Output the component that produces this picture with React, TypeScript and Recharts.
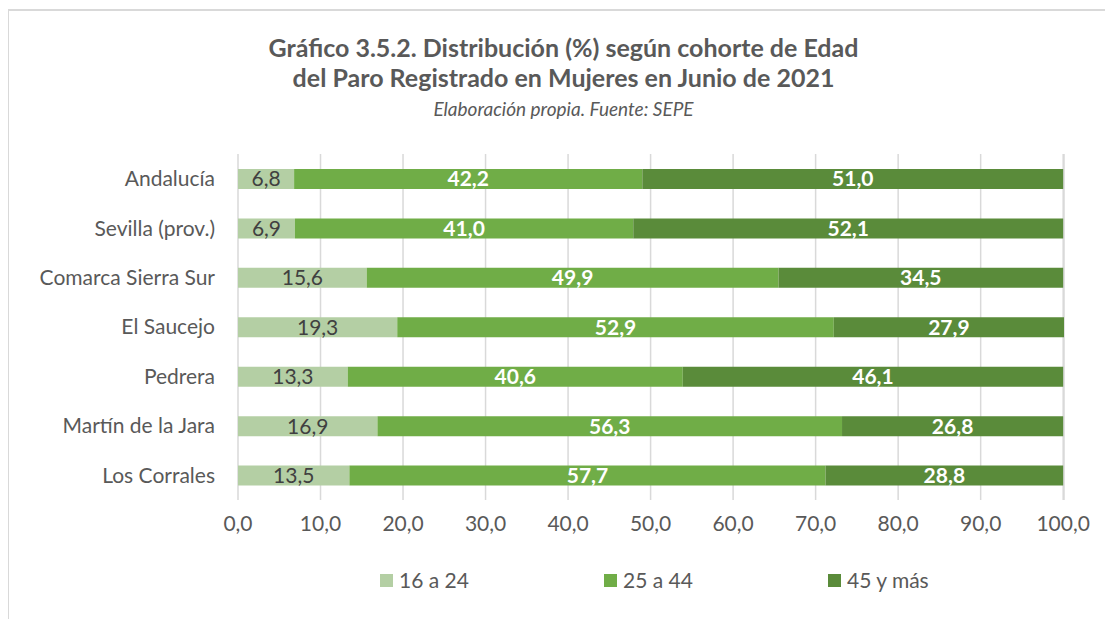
import React from "react";
import { BarChart, Bar, XAxis, YAxis, CartesianGrid, LabelList, Legend } from "recharts";

const categories = ["Andalucía", "Sevilla (prov.)", "Comarca Sierra Sur", "El Saucejo", "Pedrera", "Martín de la Jara", "Los Corrales"];
const serie16a24 = [6.8, 6.9, 15.6, 19.3, 13.3, 16.9, 13.5];
const serie25a44 = [42.2, 41.0, 49.9, 52.9, 40.6, 56.3, 57.7];
const serie45ymas = [51.0, 52.1, 34.5, 27.9, 46.1, 26.8, 28.8];
const xTicks = [0, 10, 20, 30, 40, 50, 60, 70, 80, 90, 100];
const seriesNames = ["16 a 24", "25 a 44", "45 y más"];

const data = categories.map((c, i) => ({
  name: c,
  a: serie16a24[i],
  b: serie25a44[i],
  c: serie45ymas[i],
}));

const FONT = "Lato, 'Noto Sans', sans-serif";
const TEXT = "#595959";
const COLORS = ["#b4cfa4", "#70ad47", "#5a8b3a"];
const fmt = (v: any) => Number(v).toFixed(1).replace(".", ",");

const LegendContent = () => (
  <div style={{ position: "relative", width: 1105, height: 30, fontFamily: FONT }}>
    {seriesNames.map((n, i) => (
      <div key={n} style={{ position: "absolute", left: 372 + i * 224, top: 0, display: "flex", alignItems: "center", fontSize: 21, color: TEXT, lineHeight: "30px" }}>
        <span style={{ display: "inline-block", width: 13, height: 13, background: COLORS[i], marginRight: 6 }} />
        {n}
      </div>
    ))}
  </div>
);

export default function App() {
  return (
    <div style={{ position: "relative", width: 1105, height: 611, fontFamily: FONT, background: "#fff" }}>
      <div style={{ position: "absolute", left: -1, top: 1, width: 1110, height: 620, borderLeft: "2px solid #d9d9d9", borderTop: "2px solid #d9d9d9" }} />
      <div style={{ position: "absolute", left: 0, top: 24, width: 1111, textAlign: "center", fontWeight: 700, fontSize: 25, color: TEXT, lineHeight: "30px" }}>
        Gráfico 3.5.2. Distribución (%) según cohorte de Edad<br />del Paro Registrado en Mujeres en Junio de 2021
      </div>
      <div style={{ position: "absolute", left: 0, top: 89, width: 1111, textAlign: "center", fontStyle: "italic", fontSize: 19, color: TEXT }}>
        Elaboración propia. Fuente: SEPE
      </div>
      <div style={{ position: "absolute", left: 0, top: 0 }}>
        <BarChart
          width={1105}
          height={611}
          data={data}
          layout="vertical"
          margin={{ top: 146, right: 49, bottom: 49, left: 0 }}
          barSize={20}
        >
          <CartesianGrid horizontal={false} stroke="#d9d9d9" strokeWidth={1.5} />
          <XAxis
            type="number"
            domain={[0, 100]}
            ticks={xTicks}
            tickFormatter={fmt}
            axisLine={false}
            tickLine={false}
            tickSize={0}
            tickMargin={16}
            height={40}
            tick={{ fill: TEXT, fontSize: 21, fontFamily: FONT }}
            interval={0}
          />
          <YAxis
            type="category"
            dataKey="name"
            width={230}
            axisLine={false}
            tickLine={false}
            tickSize={0}
            tickMargin={23}
            tick={{ fill: TEXT, fontSize: 21, fontFamily: FONT }}
            interval={0}
          />
          <Legend
            verticalAlign="bottom"
            content={<LegendContent />}
            wrapperStyle={{ position: "absolute", top: 557, left: 0, width: 1105, height: 30 }}
          />
          <Bar dataKey="a" stackId="s" name={seriesNames[0]} fill={COLORS[0]} isAnimationActive={false}>
            <LabelList dataKey="a" position="center" formatter={fmt} fill="#404040" fontSize={21} fontFamily={FONT} />
          </Bar>
          <Bar dataKey="b" stackId="s" name={seriesNames[1]} fill={COLORS[1]} isAnimationActive={false}>
            <LabelList dataKey="b" position="center" formatter={fmt} fill="#ffffff" fontSize={21} fontWeight={700} fontFamily={FONT} />
          </Bar>
          <Bar dataKey="c" stackId="s" name={seriesNames[2]} fill={COLORS[2]} isAnimationActive={false}>
            <LabelList dataKey="c" position="center" formatter={fmt} fill="#ffffff" fontSize={21} fontWeight={700} fontFamily={FONT} />
          </Bar>
        </BarChart>
      </div>
    </div>
  );
}
